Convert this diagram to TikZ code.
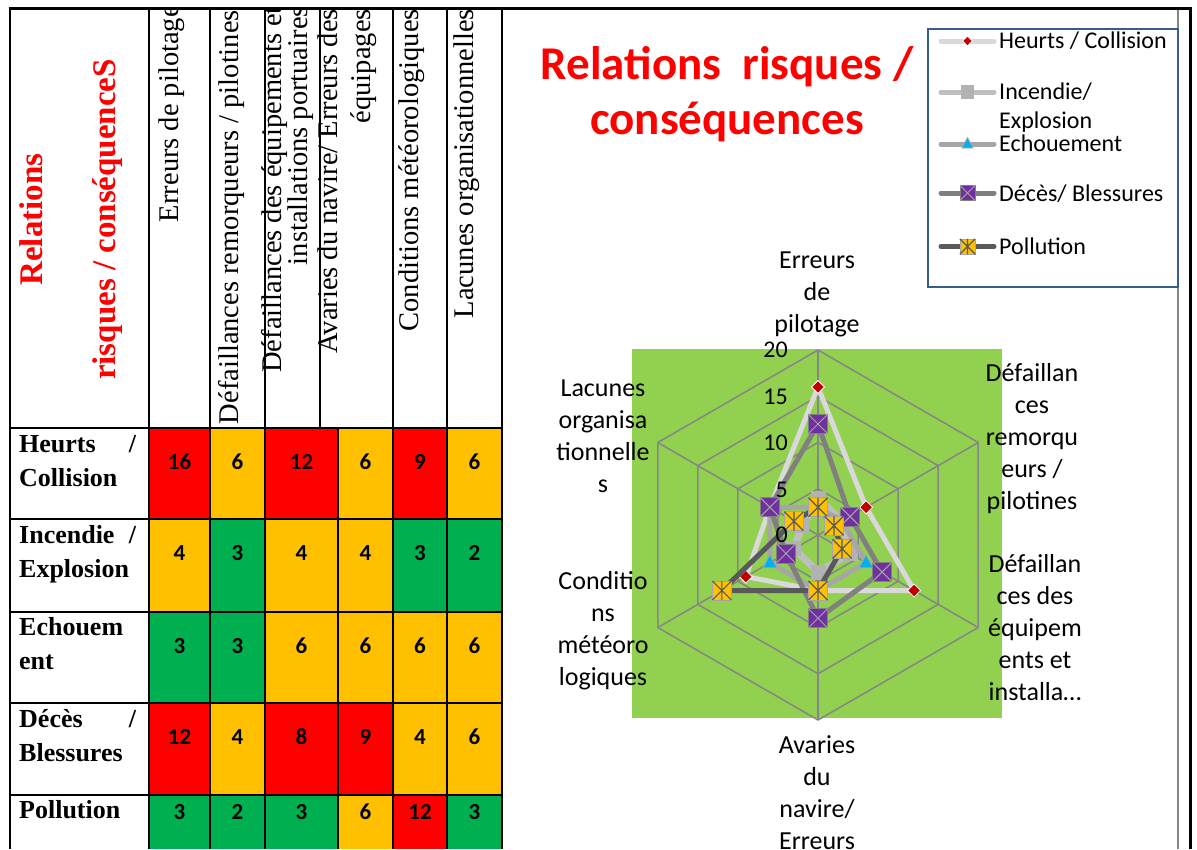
\documentclass[tikz,border=0pt]{standalone}
\usepackage{fontspec}
\setmainfont{Liberation Serif}
\newfontfamily\calib{Carlito}
\usetikzlibrary{calc}

\definecolor{cellred}{HTML}{FF0000}
\definecolor{cellyel}{HTML}{FFC000}
\definecolor{cellgrn}{HTML}{00B050}
\definecolor{plotgreen}{HTML}{92D050}
\definecolor{gridgray}{HTML}{868686}
\definecolor{sH}{HTML}{D9D9D9}
\definecolor{sI}{HTML}{BFBFBF}
\definecolor{sImk}{HTML}{B2B2B2}
\definecolor{sE}{HTML}{A6A6A6}
\definecolor{sD}{HTML}{808080}
\definecolor{sP}{HTML}{595959}
\definecolor{mkred}{HTML}{C00000}
\definecolor{mkblue}{HTML}{00B0F0}
\definecolor{mkpurple}{HTML}{7030A0}
\definecolor{mkyellow}{HTML}{FFC000}
\definecolor{legblue}{HTML}{385D8A}

\newcommand\radk{9.25}

% one coloured cell of the matrix with its score
\newcommand\riskcell[8]{%
  \fill[#6] (#2,#4) rectangle (#3,#5);
  \node[num] (#1) at ({(#2+#3)/2},#8) {#7};
}

% the six axis points of one series (top, then clockwise)
\newcommand\radarseries[7]{%
  \coordinate (#1a) at (-90:{#2*\radk});
  \coordinate (#1b) at (-30:{#3*\radk});
  \coordinate (#1c) at (30:{#4*\radk});
  \coordinate (#1d) at (90:{#5*\radk});
  \coordinate (#1e) at (150:{#6*\radk});
  \coordinate (#1f) at (210:{#7*\radk});
}

\tikzset{
  tline/.style={line width=2pt, black},
  hdr/.style={rotate=90, anchor=base east, inner sep=0pt, font=\fontsize{28.5}{30}\selectfont},
  hdrtwo/.style={rotate=90, anchor=north east, inner sep=0pt, align=right, font=\fontsize{28.5}{#1}\selectfont},
  rowlab/.style={anchor=north west, inner sep=0pt, align=left, font=\bfseries\fontsize{26}{33.5}\selectfont},
  num/.style={inner sep=0pt, font=\calib\bfseries\fontsize{23}{25}\selectfont},
  axlab/.style={inner sep=0pt, align=center, font=\calib\fontsize{26}{32}\selectfont},
  vallab/.style={anchor=east, inner sep=0pt, font=\calib\fontsize{24}{28}\selectfont},
  legtext/.style={anchor=base west, inner sep=0pt, font=\calib\fontsize{24}{28.7}\selectfont},
  radargrid/.style={gridgray, line width=1.5pt},
  serH/.style={sH, line width=5pt, line join=round},
  serI/.style={sI, line width=7pt, line join=round},
  serE/.style={sE, line width=5pt, line join=round},
  serD/.style={sD, line width=5pt, line join=round},
  serP/.style={sP, line width=5pt, line join=round},
  mkH/.pic={\path[fill=mkred, draw=white, line width=0.8pt] (0,-6.5) -- (6.5,0) -- (0,6.5) -- (-6.5,0) -- cycle;},
  mkI/.pic={\fill[sImk] (-7.5,-7.5) rectangle (7.5,7.5);},
  mkE/.pic={\path[fill=mkblue, draw=sE, line width=0.8pt] (0,-8) -- (7,5) -- (-7,5) -- cycle;},
  mkD/.pic={\path[fill=mkpurple, draw=sD, line width=0.8pt] (-9.5,-9.5) rectangle (9.5,9.5);
            \draw[gray!70, line width=1pt] (-9.5,-9.5) -- (9.5,9.5) (-9.5,9.5) -- (9.5,-9.5);},
  mkP/.pic={\path[fill=mkyellow, draw=sE, line width=0.8pt] (-9.5,-9.5) rectangle (9.5,9.5);
            \draw[sP, line width=1.2pt] (-9.5,-9.5) -- (9.5,9.5) (-9.5,9.5) -- (9.5,-9.5) (0,-9.5) -- (0,9.5);},
}

\begin{document}
\begin{tikzpicture}[x=1pt,y=-1pt]
\useasboundingbox (0,0) rectangle (1197,849);
\fill[white] (0,0) rectangle (1197,849);

% ================= risk matrix =================
% row 1 : Heurts / Collision
\riskcell{c11}{149}{210}{428}{519}{cellred}{16}{462}
\riskcell{c12}{210}{265}{428}{519}{cellyel}{6}{462}
\riskcell{c13}{265}{338}{428}{519}{cellred}{12}{462}
\riskcell{c14}{338}{393}{428}{519}{cellyel}{6}{462}
\riskcell{c15}{393}{447}{428}{519}{cellred}{9}{462}
\riskcell{c16}{447}{502}{428}{519}{cellyel}{6}{462}
% row 2 : Incendie / Explosion
\riskcell{c21}{149}{210}{519}{612}{cellyel}{4}{553}
\riskcell{c22}{210}{265}{519}{612}{cellgrn}{3}{553}
\riskcell{c23}{265}{338}{519}{612}{cellyel}{4}{553}
\riskcell{c24}{338}{393}{519}{612}{cellyel}{4}{553}
\riskcell{c25}{393}{447}{519}{612}{cellgrn}{3}{553}
\riskcell{c26}{447}{502}{519}{612}{cellgrn}{2}{553}
% row 3 : Echouement
\riskcell{c31}{149}{210}{612}{703}{cellgrn}{3}{646}
\riskcell{c32}{210}{265}{612}{703}{cellgrn}{3}{646}
\riskcell{c33}{265}{338}{612}{703}{cellyel}{6}{646}
\riskcell{c34}{338}{393}{612}{703}{cellyel}{6}{646}
\riskcell{c35}{393}{447}{612}{703}{cellyel}{6}{646}
\riskcell{c36}{447}{502}{612}{703}{cellyel}{6}{646}
% row 4 : Décès / Blessures
\riskcell{c41}{149}{210}{703}{795}{cellred}{12}{737}
\riskcell{c42}{210}{265}{703}{795}{cellyel}{4}{737}
\riskcell{c43}{265}{338}{703}{795}{cellred}{8}{737}
\riskcell{c44}{338}{393}{703}{795}{cellred}{9}{737}
\riskcell{c45}{393}{447}{703}{795}{cellyel}{4}{737}
\riskcell{c46}{447}{502}{703}{795}{cellyel}{6}{737}
% row 5 : Pollution
\riskcell{c51}{149}{210}{795}{849}{cellgrn}{3}{812}
\riskcell{c52}{210}{265}{795}{849}{cellgrn}{2}{812}
\riskcell{c53}{265}{338}{795}{849}{cellgrn}{3}{812}
\riskcell{c54}{338}{393}{795}{849}{cellyel}{6}{812}
\riskcell{c55}{393}{447}{795}{849}{cellred}{12}{812}
\riskcell{c56}{447}{502}{795}{849}{cellgrn}{3}{812}

% row headings
\node[rowlab] (r1) at (19,435.5) {\makebox[117pt][l]{Heurts\hfill/}\\Collision};
\node[rowlab] (r2) at (19,525.5) {\makebox[117pt][l]{Incendie\hfill/}\\Explosion};
\node[rowlab] (r3) at (19,617.5) {Echouem\\ent};
\node[rowlab] (r4) at (19,709.5) {\makebox[117pt][l]{Décès\hfill/}\\Blessures};
\node[rowlab] (r5) at (19,800.5) {Pollution};

% column headings, set vertically and clipped by the header cells
\begin{scope}
  \clip (10,9) rectangle (502,428);
  \node[rotate=90, inner sep=0pt, align=center, text=cellred,
        font=\bfseries\fontsize{33}{73}\selectfont] (corner) at (70.8,219.5)
        {Relations\\risques / conséquenceS};
  \node[hdr] (h1) at (178,5) {Erreurs de pilotage};
  \node[hdr] (h2) at (238,10) {Défaillances remorqueurs / pilotines};
  \node[hdrtwo=26] (h3) at (261.5,6) {Défaillances des équipements et\\installations portuaires};
  \node[hdrtwo=33] (h4) at (317.5,9) {Avaries du navire/ Erreurs des\\équipages};
  \node[hdr] (h5) at (418,9) {Conditions météorologiques};
  \node[hdr] (h6) at (473,9) {Lacunes organisationnelles};
\end{scope}

% grid of the matrix
\draw[tline] (10,428) -- (502,428) (10,519) -- (502,519) (10,612) -- (502,612)
             (10,703) -- (502,703) (10,795) -- (502,795);
\draw[tline] (10,8) -- (10,849) (149,8) -- (149,849) (210,8) -- (210,849)
             (265,8) -- (265,849) (320,8) -- (320,428) (338,428) -- (338,849)
             (393,8) -- (393,849) (447,8) -- (447,849) (502,8) -- (502,849);

% frame of the chart panel
\draw[gridgray, line width=1.5pt] (1178,10) -- (1178,849);
\draw[black, line width=3pt] (1190,8.5) -- (1190,849);
\draw[black, line width=3pt] (8.5,8.5) -- (1191.5,8.5);

% ================= radar chart =================
\node[inner sep=0pt, align=center, text=cellred,
      font=\calib\bfseries\fontsize{47}{55}\selectfont] (title) at (727,94.5)
      {Relations~ risques /\\conséquences};

\fill[plotgreen] (632,349) rectangle (1002,718);

\begin{scope}[shift={(818,535)}]
  \coordinate (ctr) at (0,0);
  \foreach \r in {5,10,15,20}{
    \draw[radargrid] (-90:{\r*\radk}) -- (-30:{\r*\radk}) -- (30:{\r*\radk}) -- (90:{\r*\radk})
                     -- (150:{\r*\radk}) -- (210:{\r*\radk}) -- cycle;
  }
  \foreach \a in {-30,30,90,150,210}{
    \coordinate (spoke\a) at (\a:185);
    \draw[radargrid] (ctr) -- (spoke\a);
  }
  \coordinate (spoketop) at (-90:185);
  \draw[gridgray, line width=2.5pt] (ctr) -- (spoketop);

  \radarseries{H}{16}{6}{12}{6}{9}{6}
  \radarseries{I}{4}{3}{4}{4}{3}{2}
  \radarseries{E}{3}{3}{6}{6}{6}{6}
  \radarseries{D}{12}{4}{8}{9}{4}{6}
  \radarseries{P}{3}{2}{3}{6}{12}{3}

  \draw[serH] (Ha) -- (Hb) -- (Hc) -- (Hd) -- (He) -- (Hf) -- cycle;
  \foreach \p in {a,b,c,d,e,f} \pic at (H\p) {mkH};
  \draw[serI] (Ia) -- (Ib) -- (Ic) -- (Id) -- (Ie) -- (If) -- cycle;
  \foreach \p in {a,b,c,d,e,f} \pic at (I\p) {mkI};
  \draw[serE] (Ea) -- (Eb) -- (Ec) -- (Ed) -- (Ee) -- (Ef) -- cycle;
  \foreach \p in {a,b,c,d,e,f} \pic at (E\p) {mkE};
  \draw[serD] (Da) -- (Db) -- (Dc) -- (Dd) -- (De) -- (Df) -- cycle;
  \foreach \p in {a,b,c,d,e,f} \pic at (D\p) {mkD};
  \draw[serP] (Pa) -- (Pb) -- (Pc) -- (Pd) -- (Pe) -- (Pf) -- cycle;
  \foreach \p in {a,b,c,d,e,f} \pic at (P\p) {mkP};
\end{scope}

% value axis
\node[vallab] (v20) at (788,350) {20};
\node[vallab] (v15) at (788,396.5) {15};
\node[vallab] (v10) at (788,443) {10};
\node[vallab] (v5)  at (788,489.5) {5};
\node[vallab] (v0)  at (788,535) {0};

% category labels
\node[axlab] (a1) at (817,294) {Erreurs\\de\\pilotage};
\node[axlab] (a2) at (1032,439) {Défaillan\\ces\\remorqu\\eurs /\\pilotines};
\node[axlab] (a3) at (1035,628) {Défaillan\\ces des\\équipem\\ents et\\installa…};
\node[axlab] (a4) at (817,792.5) {Avaries\\du\\navire/\\Erreurs};
\node[axlab] (a5) at (603,630.5) {Conditio\\ns\\météoro\\logiques};
\node[axlab] (a6) at (603,436) {Lacunes\\organisa\\tionnelle\\s};

% legend
\draw[legblue, line width=1.2pt, fill=white] (928,29) rectangle (1178,287);
\coordinate (lH0) at (941,41);   \coordinate (lH1) at (994,41);
\coordinate (lI0) at (941,92);   \coordinate (lI1) at (994,92);
\coordinate (lE0) at (941,144);  \coordinate (lE1) at (994,144);
\coordinate (lD0) at (941,193);  \coordinate (lD1) at (994,193);
\coordinate (lP0) at (941,246.5);\coordinate (lP1) at (994,246.5);
\draw[serH, line cap=round] (lH0) -- (lH1);
\draw[serI, line width=5pt, line cap=round] (lI0) -- (lI1);
\draw[serE, line cap=round] (lE0) -- (lE1);
\draw[serD, line cap=round] (lD0) -- (lD1);
\draw[serP, line cap=round] (lP0) -- (lP1);
\pic[scale=0.75] at ($(lH0)!0.5!(lH1)$) {mkH};
\pic[scale=0.9] at ($(lI0)!0.5!(lI1)$) {mkI};
\pic[scale=0.8] at ($(lE0)!0.5!(lE1)$) {mkE};
\pic[scale=0.8] at ($(lD0)!0.5!(lD1)$) {mkD};
\pic[scale=0.8] at ($(lP0)!0.5!(lP1)$) {mkP};
\node[legtext] (tH) at (999,48.5) {Heurts / Collision};
\node[legtext, anchor=north west, align=left] (tI) at (999,82.5) {Incendie/\\Explosion};
\node[legtext] (tE) at (999,151) {Echouement};
\node[legtext] (tD) at (999,201.5) {Décès/ Blessures};
\node[legtext] (tP) at (999,254) {Pollution};
\end{tikzpicture}
\end{document}
